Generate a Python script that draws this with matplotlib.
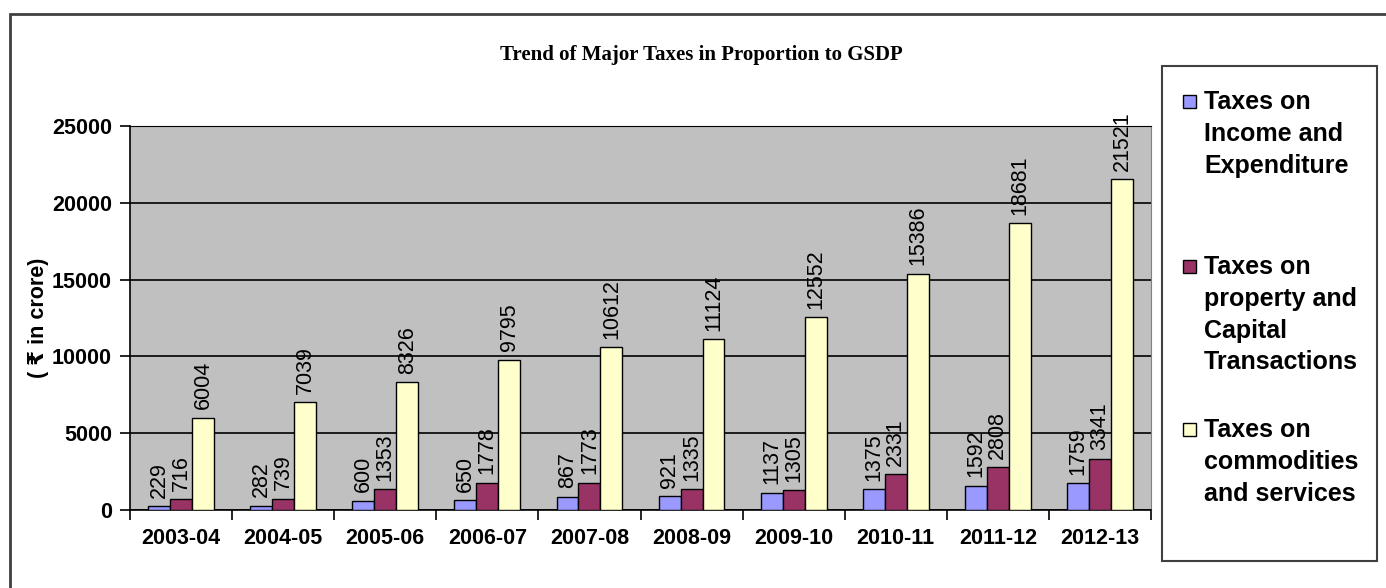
import matplotlib
matplotlib.use("Agg")
import numpy as np
import matplotlib.pyplot as plt
from matplotlib.patches import Rectangle

plt.rcParams['font.family'] = ['Liberation Sans', 'DejaVu Sans']

years = ['2003-04', '2004-05', '2005-06', '2006-07', '2007-08',
         '2008-09', '2009-10', '2010-11', '2011-12', '2012-13']
income_exp = [229, 282, 600, 650, 867, 921, 1137, 1375, 1592, 1759]
property_cap = [716, 739, 1353, 1778, 1773, 1335, 1305, 2331, 2808, 3341]
commodities = [6004, 7039, 8326, 9795, 10612, 11124, 12552, 15386, 18681, 21521]

series_names = [["Taxes on", "Income and", "Expenditure"],
                ["Taxes on", "property and", "Capital", "Transactions"],
                ["Taxes on", "commodities", "and services"]]
colors = ['#9999FF', '#993366', '#FFFFCC']

W, H = 1386, 588
fig = plt.figure(figsize=(W / 100, H / 100), dpi=100)
ax = fig.add_axes([130 / W, 1 - 510 / H, (1151 - 130) / W, (510 - 126) / H])
ax.set_facecolor('#C0C0C0')

x = np.arange(len(years))
bw = 0.215
for k, vals in enumerate([income_exp, property_cap, commodities]):
    pos = x + (k - 1) * bw
    ax.bar(pos, vals, width=bw, color=colors[k], edgecolor='black', linewidth=1.0, zorder=3)
    for p, v in zip(pos, vals):
        ax.annotate(str(v), (p, v), xytext=(0, 6), textcoords='offset points',
                    rotation=90, ha='center', va='bottom', fontsize=15.5, zorder=4)

ax.set_xlim(-0.5, len(years) - 0.5)
ax.set_ylim(0, 25000)
ax.set_yticks(np.arange(0, 25001, 5000))
ax.yaxis.grid(True, color='black', linewidth=1.2, zorder=1)
ax.set_axisbelow(True)

# x ticks at category boundaries, labels at centres
ax.set_xticks(np.arange(-0.5, len(years), 1.0))
ax.set_xticklabels([])
ax.set_xticks(x, minor=True)
ax.set_xticklabels(years, minor=True, fontsize=15.5, fontweight='bold')
ax.tick_params(axis='x', which='major', length=7, width=1.2, direction='out')
ax.tick_params(axis='x', which='minor', length=0, pad=13)
ax.tick_params(axis='y', length=7, width=1.2, direction='out', labelsize=15.5, pad=6)
for lab in ax.get_yticklabels():
    lab.set_fontweight('bold')

for s in ['left', 'bottom']:
    ax.spines[s].set_color('black')
    ax.spines[s].set_linewidth(1.2)
ax.spines['top'].set_color('black')
ax.spines['right'].set_color('#808080')

ax.set_ylabel('( \u20b9 in crore)', fontsize=15.5, fontweight='bold', labelpad=2)

fig.text(701 / W, 1 - 55 / H, 'Trend of Major Taxes in Proportion to GSDP',
         family='Liberation Serif', fontweight='bold', fontsize=15,
         ha='center', va='center')

# outer chart border
fig.patches.append(Rectangle((10 / W, -0.1), 1.2, 1 - 14 / H + 0.1, transform=fig.transFigure,
                             fill=False, edgecolor='#404040', linewidth=2))

# legend box drawn by hand
fig.patches.append(Rectangle((1162 / W, 1 - 561 / H), (1377 - 1162) / W, (561 - 66) / H,
                             transform=fig.transFigure, facecolor='white',
                             edgecolor='#404040', linewidth=1.5))
line_y = [[102, 134, 166], [267, 299, 331, 362], [430, 462, 494]]
for k, lines in enumerate(series_names):
    y0 = line_y[k][0]
    fig.patches.append(Rectangle((1183 / W, 1 - (y0 + 6) / H), 13 / W, 13 / H,
                                 transform=fig.transFigure, facecolor=colors[k],
                                 edgecolor='black', linewidth=1.0))
    for txt, yy in zip(lines, line_y[k]):
        fig.text(1204 / W, 1 - yy / H, txt, fontsize=18, fontweight='bold',
                 ha='left', va='center')

fig.savefig('out.png', dpi=100)
